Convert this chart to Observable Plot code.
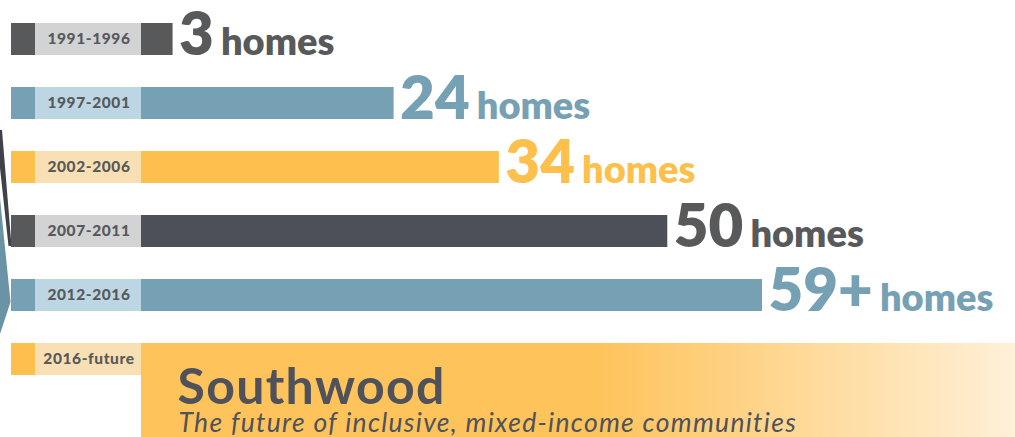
<!DOCTYPE html>
<html><head><meta charset="utf-8">
<script src="https://cdn.jsdelivr.net/npm/d3@7"></script>
<script src="https://cdn.jsdelivr.net/npm/@observablehq/plot@0.6"></script>
<style>
html,body{margin:0;padding:0;background:#fff;overflow:hidden}
svg{display:block}
</style>
</head><body><div id="chart"></div>
<script>
// ---- data ----
const periods = ["1991-1996", "1997-2001", "2002-2006", "2007-2011", "2012-2016", "2016-future"];
const homes = [3, 24, 34, 50, 59];
const homeLabels = ["3", "24", "34", "50", "59+"];
const unitLabel = "homes";
const futureTitle = "Southwood";
const futureSubtitle = "The future of inclusive, mixed-income communities";

// ---- styles ----
const barColors = ["#58595b", "#76a1b4", "#fec04d", "#4e5059", "#76a1b4", "#fec04d"];
const squareColors = ["#58595b", "#76a1b4", "#fec04d", "#58595b", "#76a1b4", "#fec04d"];
const boxColors = ["#d1d3d4", "#bdd6e4", "#f8dfb4", "#d1d3d4", "#bdd6e4", "#f8dfb4"];
const textColors = ["#58595b", "#76a1b4", "#fec04d", "#58595b", "#76a1b4"];
const inkColor = "#58595b";
const titleColor = "#4f525a";

const rows = periods.map((p, i) => ({period: p, i, value: i < homes.length ? homes[i] : null, label: homeLabels[i]}));
const pastRows = rows.filter(d => d.value != null);
const futureRows = rows.filter(d => d.value == null);

// ---- layout ----
const W = 1015, H = 437;
const x0px = 141, xMaxPx = 762;
const maxVal = d3.max(homes);
const pxPerUnit = (xMaxPx - x0px) / maxVal;
const u = px => (px - x0px) / pxPerUnit; // pixel -> data units (for the fixed label column)
const FONT = "Lato, 'Open Sans', sans-serif";

const gradient = () => {
  const defs = d3.create("svg:defs");
  const g = defs.append("linearGradient").attr("id", "swGrad").attr("x1", 0).attr("x2", 1).attr("y1", 0).attr("y2", 0);
  g.append("stop").attr("offset", "0%").attr("stop-color", "#fec35a");
  g.append("stop").attr("offset", "52%").attr("stop-color", "#fec35a");
  g.append("stop").attr("offset", "100%").attr("stop-color", "#fff0d8");
  return defs.node();
};

const decoration = () => {
  const g = d3.create("svg:g");
  g.append("polygon").attr("points", "0,130 2,130 11.5,246 8.5,246 0,168").attr("fill", "#3f4249");
  g.append("polygon").attr("points", "0,198 10.5,302 0,334").attr("fill", "#6a93a6");
  return g.node();
};

const plot = Plot.plot({
  width: W, height: H,
  marginTop: 0, marginBottom: 0, marginLeft: 0, marginRight: 0,
  style: {fontFamily: FONT, background: "transparent", overflow: "visible"},
  x: {domain: [0, maxVal], range: [x0px, xMaxPx], axis: null},
  y: {domain: periods, range: [22, 375], paddingInner: 0.5, paddingOuter: 0, axis: null},
  color: {type: "identity"},
  marks: [
    gradient,
    decoration,
    Plot.barX(rows, {y: "period", x1: u(11), x2: u(35), fill: d => squareColors[d.i]}),
    Plot.barX(rows, {y: "period", x1: u(35), x2: 0, fill: d => boxColors[d.i]}),
    Plot.barX(pastRows, {y: "period", x1: 0, x2: "value", fill: d => barColors[d.i]}),
    Plot.barX(futureRows, {y: "period", x1: 0, x2: u(W), fill: "url(#swGrad)", insetBottom: -(H - 375)}),
    Plot.text(rows, {y: "period", x: u(88.5), text: "period", fontSize: 15.5, fontWeight: 900, fill: inkColor}),
    Plot.text(pastRows, {y: "period", x: "value", text: "label", dx: 6, dy: -4, textAnchor: "start",
      fontSize: 60, fontWeight: 800, fill: d => textColors[d.i]}),
    Plot.text(futureRows, {y: "period", x: u(177), text: () => futureTitle, dy: 28, textAnchor: "start",
      fontSize: 50, fontWeight: 700, fill: titleColor}),
    Plot.text(futureRows, {y: "period", x: u(178), text: () => futureSubtitle, dy: 64, textAnchor: "start",
      fontSize: 26.5, fontStyle: "italic", fill: titleColor})
  ]
});

const svg = d3.select(plot);
svg.selectAll("text").each(function() {
  const t = this.textContent;
  if (homeLabels.includes(t)) {
    d3.select(this).append("tspan").attr("dx", 7).attr("font-size", 38).attr("font-weight", 800).text(unitLabel);
  } else if (t === futureTitle) {
    d3.select(this).attr("letter-spacing", 1.3);
  } else if (t === futureSubtitle) {
    d3.select(this).attr("letter-spacing", 1.3);
  } else if (periods.includes(t)) {
    d3.select(this).attr("letter-spacing", 0.6);
  }
});

document.getElementById("chart").appendChild(plot);
</script>
</body></html>
